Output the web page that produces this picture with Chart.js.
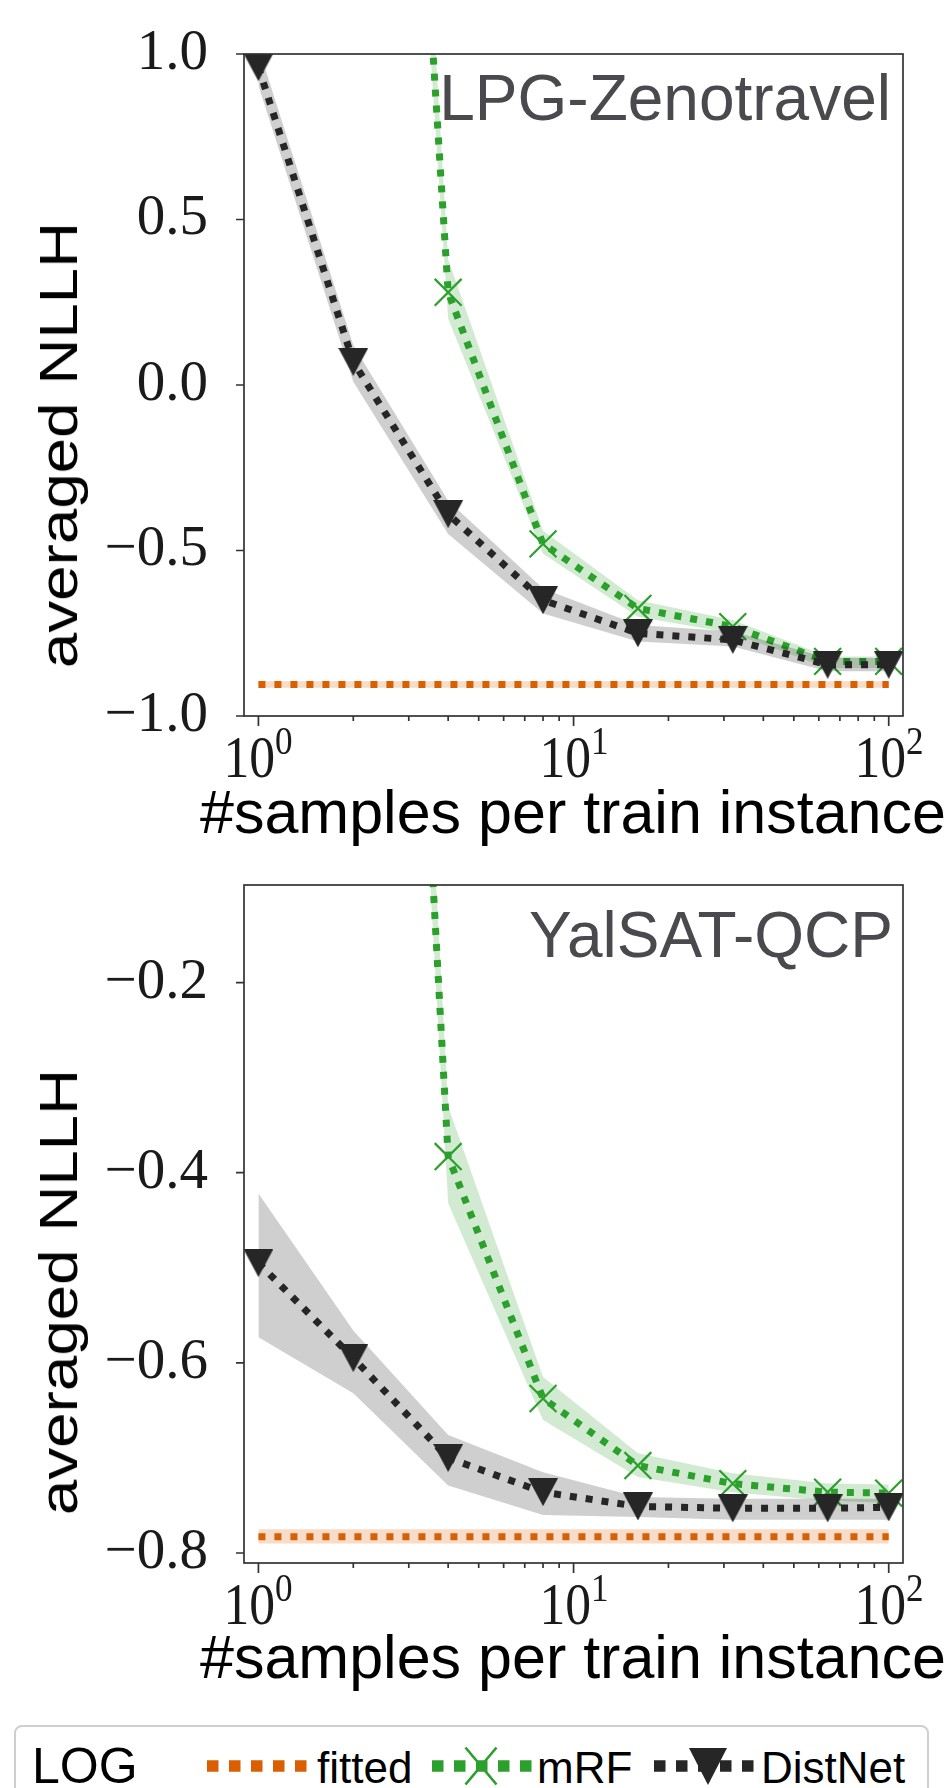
<!DOCTYPE html>
<html>
<head>
<meta charset="utf-8">
<script src="https://cdn.jsdelivr.net/npm/chart.js@4.4.1/dist/chart.umd.min.js"></script>
<style>
html,body{margin:0;padding:0;background:#fff;}
#page{position:relative;width:948px;height:1788px;overflow:hidden;background:#fff;font-family:"Liberation Sans",Arial,Helvetica,sans-serif;}
canvas{position:absolute;left:0;}
.t{position:absolute;white-space:nowrap;line-height:1;}
.xt{position:absolute;white-space:nowrap;line-height:1;font-family:"Liberation Serif","DejaVu Serif",serif;font-size:60px;color:#1a1a1a;transform:translateX(-50%) scaleX(0.86);}
.xt sup{font-size:0.68em;vertical-align:23px;line-height:0;}
</style>
</head>
<body>
<div id="page">
  <canvas id="c1" width="948" height="860" style="top:0px"></canvas>
  <canvas id="c2" width="948" height="840" style="top:860px"></canvas>

  <div class="t" style="right:57px;top:66px;font-size:64px;color:#4a4a4e;">LPG-Zenotravel</div>
  <div class="t" style="right:55px;top:903px;font-size:64px;color:#4a4a4e;">YalSAT-QCP</div>

  <div class="t" style="left:58px;top:445px;font-size:54px;color:#000;transform:translate(-50%,-50%) rotate(-90deg) scaleX(1.18);">averaged NLLH</div>
  <div class="t" style="left:58px;top:1292px;font-size:54px;color:#000;transform:translate(-50%,-50%) rotate(-90deg) scaleX(1.18);">averaged NLLH</div>

  <div class="t" style="left:73px;width:1000px;text-align:center;top:782px;font-size:61px;color:#000;">#samples per train instance</div>
  <div class="t" style="left:73px;width:1000px;text-align:center;top:1627px;font-size:61px;color:#000;">#samples per train instance</div>

  <div style="position:absolute;left:14px;top:1725px;width:915px;height:120px;box-sizing:border-box;border:2px solid #cfcfcf;border-radius:8px;"></div>
  <div class="t" style="left:32px;top:1741px;font-size:50px;color:#000;">LOG</div>
  <svg id="legsvg" style="position:absolute;left:0;top:1740px" width="948" height="48"></svg>
  <div class="t" style="left:317px;top:1746px;font-size:44px;color:#000;">fitted</div>
  <div class="t" style="left:537px;top:1746px;font-size:44px;color:#000;">mRF</div>
  <div class="t" style="left:761px;top:1746px;font-size:44px;color:#000;">DistNet</div>
</div>
<script>
// ---------------- data ----------------
const xValues = [1, 2, 4, 8, 16, 32, 64, 100];
const xMajorTicks = [1, 10, 100];
const xMajorBase = ['10', '10', '10'];
const xMajorExp = ['0', '1', '2'];
const xMinorTicks = [2, 3, 4, 5, 6, 7, 8, 9, 20, 30, 40, 50, 60, 70, 80, 90];

const topYTicks = [-1.0, -0.5, 0.0, 0.5, 1.0];
const topYLabels = ['\u22121.0', '\u22120.5', '0.0', '0.5', '1.0'];
const botYTicks = [-0.8, -0.6, -0.4, -0.2];
const botYLabels = ['\u22120.8', '\u22120.6', '\u22120.4', '\u22120.2'];

// LPG-Zenotravel
const topFitted     = [-0.905, -0.905, -0.905, -0.905, -0.905, -0.905, -0.905, -0.905];
const topFittedLow  = [-0.915, -0.915, -0.915, -0.915, -0.915, -0.915, -0.915, -0.915];
const topFittedHigh = [-0.895, -0.895, -0.895, -0.895, -0.895, -0.895, -0.895, -0.895];
const topMRF        = [null, 4.8, 0.28, -0.48, -0.675, -0.73, -0.835, -0.835];
const topMRFLow     = [null, 4.5, 0.20, -0.51, -0.70, -0.75, -0.855, -0.855];
const topMRFHigh    = [null, 5.1, 0.38, -0.44, -0.65, -0.71, -0.82, -0.82];
const topDistNet     = [0.96, 0.07, -0.39, -0.65, -0.75, -0.77, -0.845, -0.845];
const topDistNetLow  = [0.905, 0.01, -0.45, -0.69, -0.775, -0.79, -0.865, -0.865];
const topDistNetHigh = [1.02, 0.12, -0.35, -0.615, -0.725, -0.745, -0.825, -0.825];

// YalSAT-QCP
const botFitted     = [-0.783, -0.783, -0.783, -0.783, -0.783, -0.783, -0.783, -0.783];
const botFittedLow  = [-0.790, -0.790, -0.790, -0.790, -0.790, -0.790, -0.790, -0.790];
const botFittedHigh = [-0.775, -0.775, -0.775, -0.775, -0.775, -0.775, -0.775, -0.775];
const botMRF        = [null, 1.42, -0.383, -0.6375, -0.708, -0.727, -0.736, -0.737];
const botMRFLow     = [null, 1.35, -0.432, -0.66, -0.72, -0.736, -0.745, -0.747];
const botMRFHigh    = [null, 1.50, -0.33, -0.615, -0.695, -0.716, -0.727, -0.728];
const botDistNet     = [-0.495, -0.595, -0.700, -0.736, -0.751, -0.753, -0.753, -0.752];
const botDistNetLow  = [-0.573, -0.632, -0.729, -0.760, -0.762, -0.765, -0.765, -0.765];
const botDistNetHigh = [-0.422, -0.566, -0.676, -0.715, -0.741, -0.743, -0.743, -0.743];

// ---------------- styles ----------------
const ORANGE = '#d95f02', GREEN = '#2ca02c', BLACK = '#262626';
const ORANGE_BAND = 'rgba(217,95,2,0.22)', GREEN_BAND = 'rgba(44,160,44,0.22)', GRAY_BAND = 'rgba(0,0,0,0.19)';

function triangleImage(w, h, color) {
  const c = document.createElement('canvas');
  c.width = w; c.height = h;
  const g = c.getContext('2d');
  g.fillStyle = color;
  g.beginPath(); g.moveTo(0, 0); g.lineTo(w, 0); g.lineTo(w / 2, h); g.closePath(); g.fill();
  return c;
}
const triDown = triangleImage(30, 28, BLACK);

function pts(arr) { return xValues.map((x, i) => ({x: x, y: arr[i]})); }

function buildDatasets(series) {
  const ds = [];
  series.forEach(s => {
    const loIdx = ds.length;
    ds.push({label: s.name + ' low', data: pts(s.lo), borderWidth: 0, pointRadius: 0, fill: false, order: s.order + 2, clip: 0});
    ds.push({label: s.name + ' high', data: pts(s.hi), borderWidth: 0, pointRadius: 0, fill: {target: loIdx}, backgroundColor: s.band, order: s.order + 1, clip: 0});
    ds.push({label: s.name, data: pts(s.mid), borderColor: s.color, borderWidth: 7, borderDash: [7, 9], borderCapStyle: 'butt',
      fill: false, pointStyle: s.marker || 'circle', pointRadius: s.radius || 0, pointBorderWidth: s.pbw || 0,
      pointBorderColor: s.color, pointBackgroundColor: s.color, order: s.order, clip: 0});
  });
  return ds;
}

const frameTicks = {
  id: 'frameTicks',
  afterDatasetsDraw(chart) {
    const {ctx, chartArea: a, scales} = chart;
    const x = scales.x, y = scales.y;
    ctx.save();
    ctx.strokeStyle = '#333';
    ctx.lineWidth = 1.7;
    ctx.strokeRect(a.left, a.top, a.right - a.left, a.bottom - a.top);
    ctx.beginPath();
    x.ticks.forEach(t => {
      const px = x.getPixelForValue(t.value);
      const len = t.major ? 10 : 5;
      ctx.moveTo(px, a.bottom); ctx.lineTo(px, a.bottom + len);
    });
    y.ticks.forEach(t => {
      const py = y.getPixelForValue(t.value);
      ctx.moveTo(a.left - 8, py); ctx.lineTo(a.left, py);
    });
    ctx.stroke();
    ctx.restore();
  }
};

function labelFor(vals, labels, v) {
  for (let i = 0; i < vals.length; i++) if (Math.abs(vals[i] - v) < 1e-9) return labels[i];
  return '';
}

function makeChart(id, series, yMin, yMax, yTicks, yLabels, padTop, xAxisHeight) {
  const allX = xMajorTicks.concat(xMinorTicks).sort((a, b) => a - b);
  return new Chart(document.getElementById(id), {
    type: 'line',
    data: {datasets: buildDatasets(series)},
    plugins: [frameTicks],
    options: {
      responsive: false, animation: false, devicePixelRatio: 1, events: [],
      layout: {padding: {left: 0, right: 45, top: padTop, bottom: 0}},
      plugins: {legend: {display: false}, tooltip: {enabled: false}, title: {display: false}},
      scales: {
        x: {
          type: 'logarithmic', min: 0.9, max: 111,
          afterBuildTicks: s => { s.ticks = allX.map(v => ({value: v, major: xMajorTicks.includes(v)})); },
          afterFit: s => { s.height = xAxisHeight; s.paddingLeft = 0; s.paddingRight = 0; },
          grid: {display: false}, border: {display: false},
          ticks: {autoSkip: false, maxRotation: 0, minRotation: 0, padding: 8, callback: () => ''}
        },
        y: {
          type: 'linear', min: yMin, max: yMax,
          afterBuildTicks: s => { s.ticks = yTicks.map(v => ({value: v})); },
          afterFit: s => { s.width = 244; s.paddingTop = 0; s.paddingBottom = 0; },
          grid: {display: false}, border: {display: false},
          ticks: {padding: 28, color: '#1a1a1a',
            font: {family: '"Liberation Serif", "DejaVu Serif", serif', size: 57},
            callback: v => labelFor(yTicks, yLabels, v)}
        }
      }
    }
  });
}

function addXLabels(chart, canvasTop) {
  const page = document.getElementById('page');
  const xs = chart.scales.x;
  xMajorTicks.forEach((v, i) => {
    const d = document.createElement('div');
    d.className = 'xt';
    d.style.left = xs.getPixelForValue(v) + 'px';
    d.style.top = (canvasTop + chart.chartArea.bottom + 11) + 'px';
    d.innerHTML = xMajorBase[i] + '<sup>' + xMajorExp[i] + '</sup>';
    page.appendChild(d);
  });
}

const ch1 = makeChart('c1', [
  {name: 'fitted', lo: topFittedLow, hi: topFittedHigh, mid: topFitted, color: ORANGE, band: ORANGE_BAND, order: 60},
  {name: 'mRF', lo: topMRFLow, hi: topMRFHigh, mid: topMRF, color: GREEN, band: GREEN_BAND, order: 40, marker: 'crossRot', radius: 19, pbw: 2.2},
  {name: 'DistNet', lo: topDistNetLow, hi: topDistNetHigh, mid: topDistNet, color: BLACK, band: GRAY_BAND, order: 20, marker: triDown, radius: 15, pbw: 0}
], -1.0, 1.0, topYTicks, topYLabels, 54, 144);
addXLabels(ch1, 0);

const ch2 = makeChart('c2', [
  {name: 'fitted', lo: botFittedLow, hi: botFittedHigh, mid: botFitted, color: ORANGE, band: ORANGE_BAND, order: 60},
  {name: 'mRF', lo: botMRFLow, hi: botMRFHigh, mid: botMRF, color: GREEN, band: GREEN_BAND, order: 40, marker: 'crossRot', radius: 19, pbw: 2.2},
  {name: 'DistNet', lo: botDistNetLow, hi: botDistNetHigh, mid: botDistNet, color: BLACK, band: GRAY_BAND, order: 20, marker: triDown, radius: 15, pbw: 0}
], -0.8105, -0.0974, botYTicks, botYLabels, 25, 137);
addXLabels(ch2, 860);

// ---------------- legend samples ----------------
(function () {
  const svg = document.getElementById('legsvg');
  const NS = 'http://www.w3.org/2000/svg';
  function el(tag, attrs) { const e = document.createElementNS(NS, tag); for (const k in attrs) e.setAttribute(k, attrs[k]); svg.appendChild(e); return e; }
  const cy = 26, sq = 11.5, pitch = 22;
  function dots(x0, color) { for (let k = 0; k < 5; k++) el('rect', {x: x0 + k * pitch, y: cy - sq / 2, width: sq, height: sq, fill: color}); }
  dots(207, ORANGE);
  dots(432, GREEN);
  el('path', {d: `M${481 - 15.5},${cy - 18.5} L${481 + 15.5},${cy + 18.5} M${481 + 15.5},${cy - 18.5} L${481 - 15.5},${cy + 18.5}`, stroke: GREEN, 'stroke-width': 2.6, fill: 'none'});
  dots(654, BLACK);
  el('path', {d: `M689,${cy - 18} L727,${cy - 18} L708,${cy + 19} Z`, fill: BLACK});
})();
</script>
</body>
</html>
